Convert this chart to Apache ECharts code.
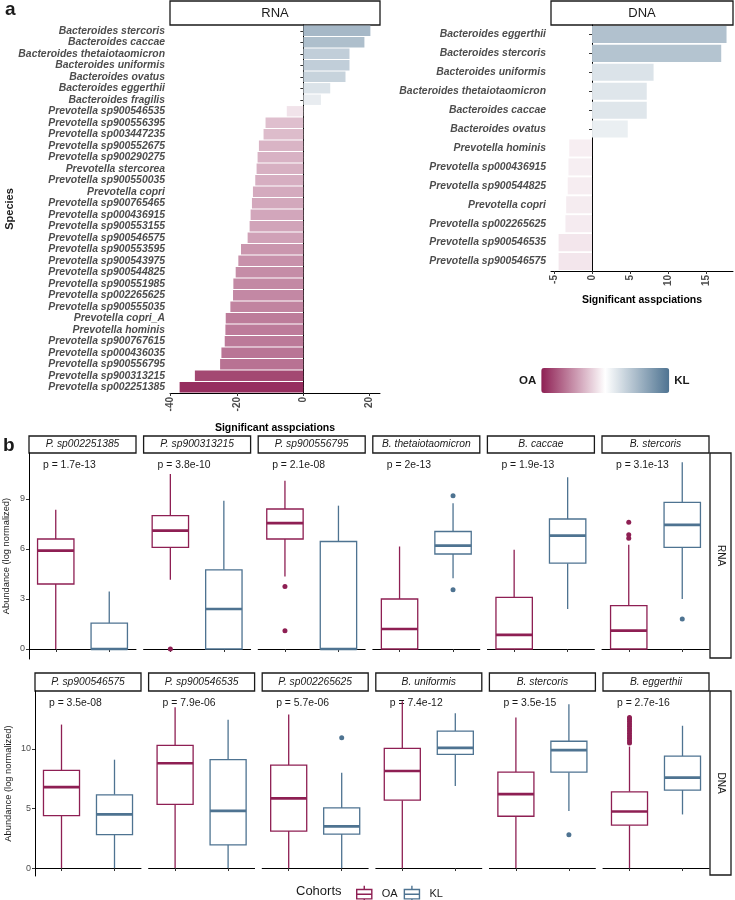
<!DOCTYPE html>
<html>
<head>
<meta charset="utf-8">
<script src="https://cdn.jsdelivr.net/npm/echarts@6/dist/echarts.min.js"></script>
<style>
  html, body { margin: 0; padding: 0; background: #fff; }
  #main { width: 735px; height: 900px; }
</style>
</head>
<body>
<div id="main"></div>
<script>
// panel a: significant associations per species
const rnaSpecies = ['Bacteroides stercoris', 'Bacteroides caccae', 'Bacteroides thetaiotaomicron', 'Bacteroides uniformis',
  'Bacteroides ovatus', 'Bacteroides eggerthii', 'Bacteroides fragilis', 'Prevotella sp900546535', 'Prevotella sp900556395',
  'Prevotella sp003447235', 'Prevotella sp900552675', 'Prevotella sp900290275', 'Prevotella stercorea', 'Prevotella sp900550035',
  'Prevotella copri', 'Prevotella sp900765465', 'Prevotella sp000436915', 'Prevotella sp900553155', 'Prevotella sp900546575',
  'Prevotella sp900553595', 'Prevotella sp900543975', 'Prevotella sp900544825', 'Prevotella sp900551985', 'Prevotella sp002265625',
  'Prevotella sp900555035', 'Prevotella copri_A', 'Prevotella hominis', 'Prevotella sp900767615', 'Prevotella sp000436035',
  'Prevotella sp900556795', 'Prevotella sp900313215', 'Prevotella sp002251385'];
const rnaCounts = [20.2, 18.4, 13.9, 13.9, 12.7, 8.1, 5.3, -5.0, -11.4, -12.0, -13.4, -13.8, -14.1, -14.5, -15.2, -15.5,
  -15.9, -16.2, -16.8, -18.8, -19.6, -20.4, -21.1, -21.2, -22.0, -23.4, -23.5, -23.7, -24.7, -25.1, -32.7, -37.3];

const dnaSpecies = ['Bacteroides eggerthii', 'Bacteroides stercoris', 'Bacteroides uniformis', 'Bacteroides thetaiotaomicron',
  'Bacteroides caccae', 'Bacteroides ovatus', 'Prevotella hominis', 'Prevotella sp000436915', 'Prevotella sp900544825',
  'Prevotella copri', 'Prevotella sp002265625', 'Prevotella sp900546535', 'Prevotella sp900546575'];
const dnaCounts = [17.7, 17.0, 8.1, 7.2, 7.2, 4.7, -3.0, -3.1, -3.2, -3.4, -3.5, -4.4, -4.4];

const rnaTicks = [-40, -20, 0, 20];
const dnaTicks = [-5, 0, 5, 10, 15];

// panel b: abundance box plots, [min, q1, median, q3, max]
const cohorts = ['OA', 'KL'];

const rnaFacets = ['P. sp002251385', 'P. sp900313215', 'P. sp900556795', 'B. thetaiotaomicron', 'B. caccae', 'B. stercoris'];
const rnaPvals = ['p = 1.7e-13', 'p = 3.8e-10', 'p = 2.1e-08', 'p = 2e-13', 'p = 1.9e-13', 'p = 3.1e-13'];
const rnaBoxOA = [[0, 3.9, 5.9, 6.6, 8.35], [4.15, 6.1, 7.1, 8.0, 10.5], [4.35, 6.6, 7.55, 8.4, 10.1],
  [0, 0, 1.2, 3.0, 6.15], [0, 0, 0.85, 3.1, 5.95], [0, 0, 1.1, 2.6, 6.25]];
const rnaBoxKL = [[0, 0, 0, 1.55, 3.45], [0, 0, 2.4, 4.75, 8.9], [0, 0, 0, 6.45, 8.6],
  [4.25, 5.7, 6.2, 7.05, 8.75], [2.4, 5.15, 6.8, 7.8, 10.3], [3.0, 6.1, 7.45, 8.8, 11.2]];
const rnaOutOA = [[], [0], [3.75, 1.1], [], [], [7.6, 6.85, 6.65]];
const rnaOutKL = [[], [], [], [9.2, 3.55], [], [1.8]];
const rnaYTicks = [0, 3, 6, 9];

const dnaFacets = ['P. sp900546575', 'P. sp900546535', 'P. sp002265625', 'B. uniformis', 'B. stercoris', 'B. eggerthii'];
const dnaPvals = ['p = 3.5e-08', 'p = 7.9e-06', 'p = 5.7e-06', 'p = 7.4e-12', 'p = 3.5e-15', 'p = 2.7e-16'];
const dnaBoxOA = [[0, 4.4, 6.8, 8.2, 12.05], [0, 5.35, 8.8, 10.3, 13.5], [0, 3.1, 5.85, 8.65, 12.9],
  [0, 5.7, 8.15, 10.05, 14.0], [0, 4.35, 6.2, 8.05, 12.65], [0, 3.6, 4.75, 6.4, 10.2]];
const dnaBoxKL = [[0, 2.8, 4.5, 6.15, 9.1], [0, 1.95, 4.8, 9.1, 12.45], [0, 2.85, 3.5, 5.05, 8.0],
  [6.9, 9.55, 10.1, 11.5, 13.0], [4.8, 8.05, 9.9, 10.65, 13.75], [4.5, 6.55, 7.6, 9.4, 11.95]];
const dnaOutOA = [[], [], [], [], [], [10.5, 10.7, 10.9, 11.1, 11.3, 11.5, 11.7, 11.9, 12.1, 12.3, 12.5, 12.65]];
const dnaOutKL = [[], [], [10.95], [], [2.8], []];
const dnaYTicks = [0, 5, 10];

const FONT = "'Liberation Sans', Arial, sans-serif";
const OA_C = '#8e1f53';
const KL_C = '#4e7391';
const cohortColors = [OA_C, KL_C];

const chart = echarts.init(document.getElementById('main'));

const grid = [], xAxis = [], yAxis = [], series = [], graphic = [];

function stripBox(x, y, w, h, label, size, italic, rot) {
  return {
    type: 'group', children: [
      { type: 'rect', shape: { x: x, y: y, width: w, height: h }, style: { fill: '#fff', stroke: '#1a1a1a', lineWidth: 1.3 } },
      { type: 'text', x: x + w / 2, y: y + h / 2, rotation: rot || 0,
        style: { text: label, align: 'center', verticalAlign: 'middle', fill: '#1a1a1a', fontSize: size,
          fontStyle: italic ? 'italic' : 'normal', fontFamily: FONT } }
    ]
  };
}

function plainText(x, y, text, size, weight, align, rot) {
  return { type: 'text', x: x, y: y, rotation: rot || 0,
    style: { text: text, align: align || 'left', verticalAlign: 'middle', fill: '#1a1a1a', fontSize: size,
      fontWeight: weight || 'normal', fontFamily: FONT } };
}

// ---- panel a ----
const barPanels = [
  { species: rnaSpecies, counts: rnaCounts, ticks: rnaTicks, min: -40.2, max: 23.1,
    left: 170, top: 25, width: 210, height: 368, nameGap: 30, title: 'RNA' },
  { species: dnaSpecies, counts: dnaCounts, ticks: dnaTicks, min: -5.4, max: 18.55,
    left: 551, top: 25, width: 182, height: 246, nameGap: 24, title: 'DNA' }
];

barPanels.forEach(function (p, i) {
  grid.push({ left: p.left, top: p.top, width: p.width, height: p.height, containLabel: false });
  xAxis.push({
    gridIndex: i, type: 'value', min: p.min, max: p.max,
    splitLine: { show: false },
    axisLine: { show: true, lineStyle: { color: '#000', width: 1 } },
    axisTick: { show: true, length: 3, customValues: p.ticks, lineStyle: { color: '#333' } },
    axisLabel: { customValues: p.ticks, rotate: 90, fontSize: 10, fontWeight: 'bold', color: '#4d4d4d', margin: 4, fontFamily: FONT },
    name: 'Significant asspciations', nameLocation: 'middle', nameGap: p.nameGap,
    nameTextStyle: { fontWeight: 'bold', fontSize: 10.5, color: '#000', fontFamily: FONT }
  });
  yAxis.push({
    gridIndex: i, type: 'category', data: p.species, inverse: true,
    axisLine: { show: true, lineStyle: { color: '#000', width: 1 } },
    axisTick: { show: true, length: 3, interval: 0, alignWithLabel: true, lineStyle: { color: '#333' } },
    axisLabel: { interval: 0, fontStyle: 'italic', fontWeight: 'bold', fontSize: 10.4, color: '#4d4d4d', margin: 5, fontFamily: FONT }
  });
  series.push({
    type: 'bar', name: p.title, xAxisIndex: i, yAxisIndex: i, barWidth: '90%',
    data: p.counts.map(function (v, k) { return [v, k]; })
  });
  graphic.push(stripBox(p.left, 1, p.width, p.top - 1, p.title, 13, false));
});

graphic.push(plainText(5, 10, 'a', 19, 'bold'));
graphic.push(plainText(10, 209, 'Species', 11, 'bold', 'center', Math.PI / 2));
graphic.push(plainText(605, 389, 'Enriched in', 11.7, 'bold', 'center'));

// ---- panel b ----
function renderBox(params, api) {
  const x = api.value(0);
  const pMin = api.coord([x, api.value(1)]);
  const pQ1 = api.coord([x, api.value(2)]);
  const pMed = api.coord([x, api.value(3)]);
  const pQ3 = api.coord([x, api.value(4)]);
  const pMax = api.coord([x, api.value(5)]);
  const half = api.size([1, 0])[0] * 0.34;
  const color = api.visual('color');
  const cx = pMed[0];
  return {
    type: 'group', children: [
      { type: 'line', shape: { x1: cx, y1: pMax[1], x2: cx, y2: pQ3[1] }, style: { stroke: color, lineWidth: 1.3 } },
      { type: 'line', shape: { x1: cx, y1: pQ1[1], x2: cx, y2: pMin[1] }, style: { stroke: color, lineWidth: 1.3 } },
      { type: 'rect', shape: { x: cx - half, y: pQ3[1], width: half * 2, height: pQ1[1] - pQ3[1] },
        style: { fill: '#fff', stroke: color, lineWidth: 1.3 } },
      { type: 'line', shape: { x1: cx - half, y1: pMed[1], x2: cx + half, y2: pMed[1] }, style: { stroke: color, lineWidth: 2.7 } }
    ]
  };
}

const boxRows = [
  { label: 'RNA', facets: rnaFacets, pvals: rnaPvals, boxes: [rnaBoxOA, rnaBoxKL], outs: [rnaOutOA, rnaOutKL],
    ticks: rnaYTicks, min: -0.6, max: 11.76, left0: 29, pitch: 114.6, width: 107, top: 453, height: 206,
    stripH: 17, nameGap: 18 },
  { label: 'DNA', facets: dnaFacets, pvals: dnaPvals, boxes: [dnaBoxOA, dnaBoxKL], outs: [dnaOutOA, dnaOutKL],
    ticks: dnaYTicks, min: -0.67, max: 14.87, left0: 35, pitch: 113.6, width: 106, top: 691, height: 185,
    stripH: 18, nameGap: 22 }
];

boxRows.forEach(function (row) {
  row.facets.forEach(function (facet, f) {
    const gi = grid.length;
    const left = row.left0 + f * row.pitch;
    grid.push({ left: left, top: row.top, width: row.width, height: row.height, containLabel: false });
    xAxis.push({
      gridIndex: gi, type: 'category', data: cohorts,
      axisLine: { show: true, lineStyle: { color: '#000', width: 1 } },
      axisTick: { show: true, length: 3, alignWithLabel: true, lineStyle: { color: '#333' } },
      axisLabel: { show: false }
    });
    const first = f === 0;
    yAxis.push({
      gridIndex: gi, type: 'value', min: row.min, max: row.max,
      splitLine: { show: false },
      axisLine: { show: first, lineStyle: { color: '#000', width: 1 } },
      axisTick: { show: first, length: 3, customValues: row.ticks, lineStyle: { color: '#333' } },
      axisLabel: { show: first, customValues: row.ticks, fontSize: 9, color: '#4d4d4d', margin: 4, fontFamily: FONT },
      name: first ? 'Abundance (log normalized)' : '', nameLocation: 'middle', nameGap: row.nameGap,
      nameTextStyle: { fontSize: 9.3, color: '#1a1a1a', fontFamily: FONT }
    });
    cohorts.forEach(function (c, ci) {
      series.push({
        type: 'custom', name: c, xAxisIndex: gi, yAxisIndex: gi,
        itemStyle: { color: cohortColors[ci] },
        encode: { x: 0, y: [1, 2, 3, 4, 5] },
        renderItem: renderBox,
        data: [[ci].concat(row.boxes[ci][f])]
      });
      series.push({
        type: 'scatter', name: c, xAxisIndex: gi, yAxisIndex: gi, symbolSize: 5,
        itemStyle: { color: cohortColors[ci], opacity: 1 },
        data: row.outs[ci][f].map(function (v) { return [ci, v]; })
      });
    });
    graphic.push(stripBox(left, row.top - row.stripH, row.width, row.stripH, facet, 10.3, true));
    graphic.push(plainText(left + 14, row.top + 12, row.pvals[f], 10.4, 'normal'));
  });
  const rightX = row.left0 + 5 * row.pitch + row.width + 1;
  graphic.push(stripBox(rightX, row.top, 21, row.height - 1, row.label, 10, false, -Math.PI / 2));
});

graphic.push(plainText(3, 446, 'b', 19, 'bold'));
graphic.push(plainText(296, 891, 'Cohorts', 13, 'normal'));

const boxIcon = 'path://M8.5,0V4M0.5,4H16.5V14H0.5ZM0.5,9H16.5M8.5,14V18';

const option = {
  animation: false,
  textStyle: { fontFamily: FONT },
  grid: grid,
  xAxis: xAxis,
  yAxis: yAxis,
  visualMap: {
    type: 'continuous', min: -40, max: 40, dimension: 0, seriesIndex: [0, 1],
    orient: 'horizontal', left: 504, top: 353, itemWidth: 25, itemHeight: 128,
    text: ['KL', 'OA'], textGap: 5, calculable: false, hoverLink: false,
    inRange: { color: [OA_C, '#ffffff', KL_C] },
    textStyle: { fontSize: 11.5, fontWeight: 'bold', color: '#1a1a1a', fontFamily: FONT }
  },
  legend: {
    left: 351, top: 880, itemWidth: 25, itemHeight: 17, itemGap: 6,
    textStyle: { fontSize: 11, color: '#1a1a1a', fontFamily: FONT },
    data: cohorts.map(function (c, ci) {
      return { name: c, icon: boxIcon, itemStyle: { color: '#fff', borderColor: cohortColors[ci], borderWidth: 1.4 } };
    })
  },
  graphic: graphic,
  series: series
};

chart.setOption(option);
</script>
</body>
</html>
